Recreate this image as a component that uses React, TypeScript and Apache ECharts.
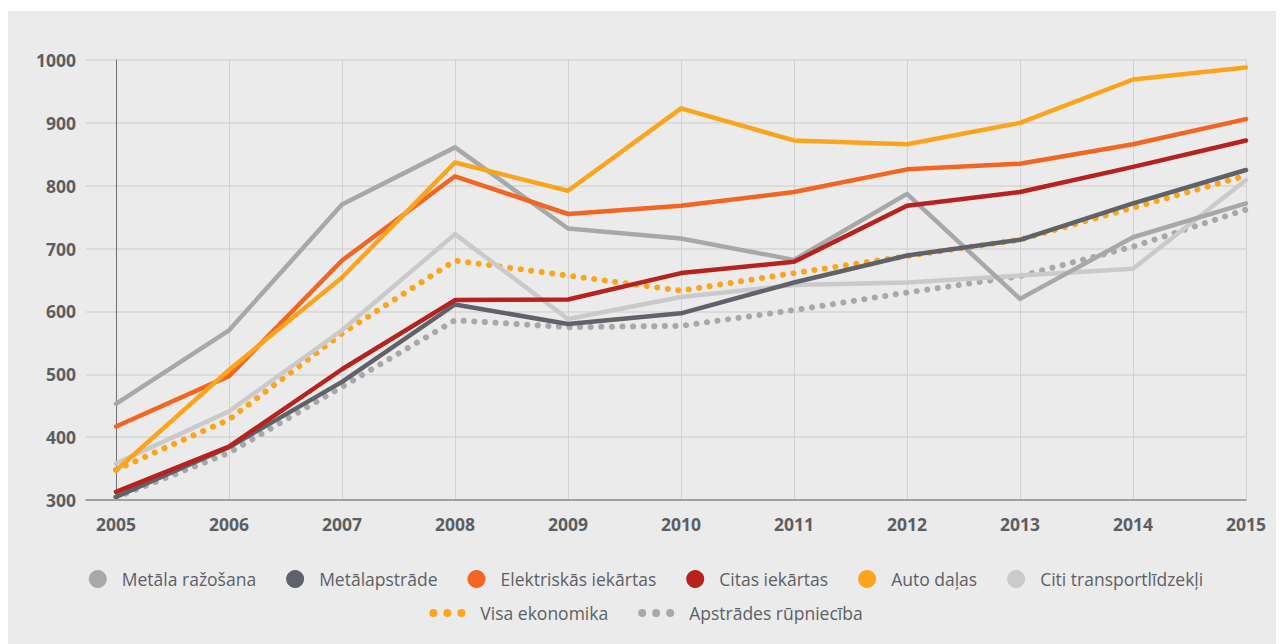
import React, { useEffect, useRef } from 'react';
import * as echarts from 'echarts';

const years = ['2005', '2006', '2007', '2008', '2009', '2010', '2011', '2012', '2013', '2014', '2015'];
const yTicks = { min: 300, max: 1000, interval: 100 };

const metalaRazosana = [453, 570, 770, 861, 732, 716, 682, 787, 620, 718, 772];
const metalapstrade = [305, 384, 488, 611, 580, 597, 646, 689, 714, 772, 825];
const elektriskas = [417, 497, 681, 815, 755, 768, 790, 826, 835, 866, 906];
const citasIekartas = [313, 385, 508, 618, 619, 661, 679, 768, 790, 830, 872];
const autoDalas = [347, 507, 654, 837, 792, 923, 872, 866, 900, 969, 988];
const citiTransport = [358, 441, 570, 723, 588, 623, 642, 646, 657, 668, 809];
const visaEkonomika = [348, 428, 565, 681, 657, 633, 661, 688, 714, 765, 816];
const apstrades = [304, 375, 480, 586, 575, 577, 602, 630, 656, 703, 762];

const solidNames = ['Metāla ražošana', 'Metālapstrāde', 'Elektriskās iekārtas', 'Citas iekārtas', 'Auto daļas', 'Citi transportlīdzekļi'];
const dottedNames = ['Visa ekonomika', 'Apstrādes rūpniecība'];

const C = {
  metala: '#a7a9a9',
  metalap: '#5f6369',
  elek: '#f26522',
  citas: '#b8221e',
  auto: '#fca51c',
  citi: '#c9cac9',
};

const FONT = '"Open Sans", "Noto Sans", sans-serif';
const dotsIcon =
  'path://M0,4a4,4 0 1,0 8,0a4,4 0 1,0 -8,0z M14,4a4,4 0 1,0 8,0a4,4 0 1,0 -8,0z M28,4a4,4 0 1,0 8,0a4,4 0 1,0 -8,0z';

export default function App() {
  const ref = useRef<HTMLDivElement>(null);
  useEffect(() => {
    if (!ref.current) return;
    const chart = echarts.init(ref.current, undefined, { renderer: 'svg' });
    const solid = (name: string, data: number[], color: string) => ({
      name,
      type: 'line',
      data,
      xAxisIndex: 0,
      yAxisIndex: 0,
      showSymbol: false,
      symbol: 'circle',
      itemStyle: { color },
      lineStyle: { color, width: 4.5, cap: 'round', join: 'round' },
      emphasis: { disabled: true },
    });
    const dotted = (name: string, data: number[], color: string) => ({
      name,
      type: 'line',
      data,
      xAxisIndex: 0,
      yAxisIndex: 0,
      showSymbol: false,
      symbol: 'circle',
      itemStyle: { color },
      lineStyle: { color, width: 6, type: [0.1, 10.5], cap: 'round' },
      emphasis: { disabled: true },
    });
    const legendText = {
      color: '#5d6066',
      fontSize: 17.5,
      fontFamily: FONT,
      padding: [0, 0, 0, 10],
    };
    const axisText = { color: '#5b5e63', fontSize: 17.5, fontWeight: 'bold', fontFamily: FONT };
    chart.setOption({
      animation: false,
      backgroundColor: '#ebebeb',
      textStyle: { fontFamily: FONT },
      grid: [
        { left: 108, right: 38, top: 49, height: 440 },
        { left: 78, width: 30, top: 49, height: 440 },
      ],
      xAxis: [
        {
          type: 'category',
          gridIndex: 0,
          data: years,
          boundaryGap: false,
          axisLine: { show: true, lineStyle: { color: '#8a8d91', width: 1.5 } },
          axisTick: { show: false },
          axisLabel: { ...axisText, margin: 15 },
          splitLine: { show: true, lineStyle: { color: '#d2d2d2', width: 1 } },
        },
        {
          type: 'value',
          gridIndex: 1,
          min: 0,
          max: 1,
          axisLine: { show: true, lineStyle: { color: '#8a8d91', width: 1.5 } },
          axisTick: { show: false },
          axisLabel: { show: false },
          splitLine: { show: false },
        },
      ],
      yAxis: [
        {
          type: 'value',
          gridIndex: 0,
          ...yTicks,
          axisLine: { show: true, lineStyle: { color: '#6d6f72', width: 1 } },
          axisTick: { show: false },
          axisLabel: { show: false },
          splitLine: { show: true, lineStyle: { color: '#d6d6d6', width: 1.5 } },
        },
        {
          type: 'value',
          gridIndex: 1,
          ...yTicks,
          axisLine: { show: false },
          axisTick: { show: false },
          axisLabel: { ...axisText, margin: 10, formatter: (v: number) => String(v) },
          splitLine: { show: true, lineStyle: { color: '#d6d6d6', width: 1.5 } },
        },
      ],
      legend: [
        {
          top: 554,
          left: 'center',
          icon: 'circle',
          itemWidth: 18,
          itemHeight: 18,
          itemGap: 30,
          textStyle: legendText,
          data: solidNames,
          selectedMode: false,
        },
        {
          top: 588,
          left: 'center',
          itemWidth: 36,
          itemHeight: 8,
          itemGap: 30,
          textStyle: legendText,
          data: dottedNames.map((n) => ({ name: n, icon: dotsIcon })),
          selectedMode: false,
        },
      ],
      series: [
        dotted('Apstrādes rūpniecība', apstrades, C.metala),
        dotted('Visa ekonomika', visaEkonomika, C.auto),
        solid('Citi transportlīdzekļi', citiTransport, C.citi),
        solid('Metāla ražošana', metalaRazosana, C.metala),
        solid('Metālapstrāde', metalapstrade, C.metalap),
        solid('Citas iekārtas', citasIekartas, C.citas),
        solid('Elektriskās iekārtas', elektriskas, C.elek),
        solid('Auto daļas', autoDalas, C.auto),
      ],
    });
    return () => chart.dispose();
  }, []);
  return (
    <div
      ref={ref}
      style={{ width: 1276, height: 633, marginTop: 3, background: '#ebebeb' }}
    />
  );
}
